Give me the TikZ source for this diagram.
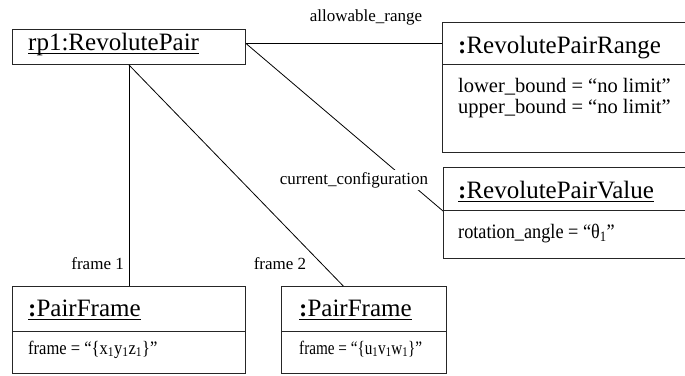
\documentclass[tikz,border=0pt]{standalone}
\usepackage{fontspec}
\setmainfont{Liberation Serif}
\usetikzlibrary{calc}
\newcommand\myul[1]{\setbox0\hbox{#1}\rlap{\rule[-4pt]{\wd0}{1.2pt}}\box0}
\newcommand\ttlfont{\fontsize{25}{30}\selectfont}
\newcommand\bdyfont{\fontsize{20.5}{24}\selectfont}
\newcommand\smbfont{\fontsize{19}{22}\selectfont}
\newcommand\lblfont{\fontsize{17}{20}\selectfont}
\begin{document}
\begin{tikzpicture}[x=1pt,y=-1pt,
  umlbox/.style={draw=black!85, line width=1pt, inner sep=0pt, anchor=north west},
  ttl/.style={anchor=base west, inner sep=0pt, font=\ttlfont},
  bdy/.style={anchor=base west, inner sep=0pt, font=\bdyfont, align=left},
  lbl/.style={inner sep=0pt, font=\lblfont},
  conn/.style={draw=black, line width=0.8pt}]
\clip (0,0) rectangle (685,375);
\fill[white] (0,0) rectangle (685,375);
% boxes
\node[umlbox, minimum width=233pt, minimum height=35pt] (rp1) at (12,29) {};
\node[umlbox, minimum width=260pt, minimum height=42pt] (rngT) at (442,22) {};
\node[umlbox, minimum width=260pt, minimum height=88pt] (rngB) at (442,64) {};
\node[umlbox, minimum width=260pt, minimum height=43pt] (valT) at (443,167) {};
\node[umlbox, minimum width=260pt, minimum height=48pt] (valB) at (443,210) {};
\node[umlbox, minimum width=233pt, minimum height=45pt] (pf1T) at (12,286) {};
\node[umlbox, minimum width=233pt, minimum height=42pt] (pf1B) at (12,331) {};
\node[umlbox, minimum width=165pt, minimum height=45pt] (pf2T) at (281,286) {};
\node[umlbox, minimum width=165pt, minimum height=42pt] (pf2B) at (281,331) {};
% texts
\node[ttl] (t1) at (28,50) {\myul{rp1:RevolutePair}};
\node[ttl] (t2) at (458,53) {\textbf{:}RevolutePairRange};
\node[bdy] (b2a) at (458,92) {lower\_bound = “no limit”};
\node[bdy] (b2b) at (458,113) {upper\_bound = “no limit”};
\node[ttl] (t3) at (458,198) {\myul{\textbf{:}RevolutePairValue}};
\node[bdy] (b3) at (458,238) {\scalebox{0.89}[1]{rotation\_angle = “θ\textsubscript{1}”}};
\node[ttl] (t4) at (28,316) {\myul{\textbf{:}PairFrame}};
\node[bdy, font=\smbfont] (b4) at (28,354) {\scalebox{0.87}[1]{frame = “\{x\textsubscript{1}y\textsubscript{1}z\textsubscript{1}\}”}};
\node[ttl] (t5) at (299,316) {\myul{\textbf{:}PairFrame}};
\node[bdy, font=\smbfont] (b5) at (299,354) {\scalebox{0.8}[1]{frame = “\{u\textsubscript{1}v\textsubscript{1}w\textsubscript{1}\}”}};
% connectors
\coordinate (rpR) at (rngT.west -| rp1.east);
\draw[conn] (rpR) -- (rngT.west);
\draw[conn] (rpR) -- (valT.south west);
\draw[conn] (rp1.south) -- (pf1T.north);
\draw[conn] (rp1.south) -- ($(pf2T.north west)!0.375!(pf2T.north east)$);
% labels
\node[lbl, anchor=base] (l1) at (366,21) {allowable\_range};
\node[lbl, anchor=base, fill=white, inner sep=2pt] (l2) at (354,184) {current\_configuration};
\node[lbl, anchor=base east] (l3) at (124,269) {frame 1};
\node[lbl, anchor=base] (l4) at (280,269) {frame 2};
\end{tikzpicture}
\end{document}
